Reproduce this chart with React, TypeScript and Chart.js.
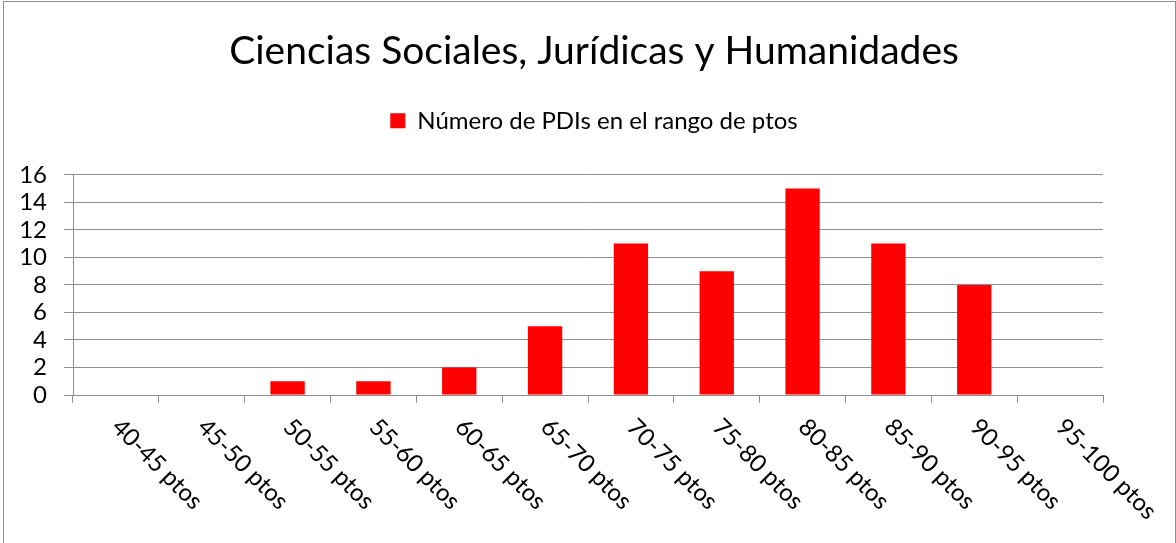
import React, { useEffect, useRef } from 'react';
import { Chart, registerables } from 'chart.js';

Chart.register(...registerables);

const titleText = 'Ciencias Sociales, Jurídicas y Humanidades';
const seriesLabel = 'Número de PDIs en el rango de ptos';
const categories = [
  '40-45 ptos',
  '45-50 ptos',
  '50-55 ptos',
  '55-60 ptos',
  '60-65 ptos',
  '65-70 ptos',
  '70-75 ptos',
  '75-80 ptos',
  '80-85 ptos',
  '85-90 ptos',
  '90-95 ptos',
  '95-100 ptos',
];
const values = [0, 0, 1, 1, 2, 5, 11, 9, 15, 11, 8, 0];
const yMin = 0;
const yMax = 16;
const yStep = 2;

const FONT = 'Lato, Carlito, Calibri, "Open Sans", sans-serif';
const GRID = '#8e8e8e';

const rotatedXLabels = {
  id: 'rotatedXLabels',
  afterDraw(chart: any) {
    const xs = chart.scales.x;
    const ctx = chart.ctx;
    ctx.save();
    ctx.font = `24px ${FONT}`;
    ctx.fillStyle = '#000';
    ctx.textAlign = 'left';
    ctx.textBaseline = 'middle';
    categories.forEach((lab, i) => {
      const px = xs.getPixelForValue(i);
      ctx.save();
      ctx.translate(px, xs.top + 28);
      ctx.rotate(Math.PI / 4);
      ctx.fillText(lab, 0, 0);
      ctx.restore();
    });
    ctx.restore();
  },
};

export default function App() {
  const ref = useRef<HTMLCanvasElement | null>(null);

  useEffect(() => {
    if (!ref.current) return;
    const chart = new Chart(ref.current, {
      type: 'bar',
      data: {
        labels: categories,
        datasets: [
          {
            label: seriesLabel,
            data: values,
            backgroundColor: '#ff0000',
            borderWidth: 0,
            barPercentage: 0.4,
            categoryPercentage: 1,
          },
        ],
      },
      options: {
        animation: false,
        responsive: false,
        maintainAspectRatio: false,
        layout: { padding: { left: 12, right: 0, top: 0, bottom: 0 } },
        plugins: {
          title: {
            display: true,
            text: titleText,
            color: '#000',
            font: { family: FONT, size: 39, weight: 'normal' },
            padding: { top: 28, bottom: 24 },
          },
          subtitle: {
            display: true,
            text: '',
            weight: 500,
            font: { family: FONT, size: 10, lineHeight: 1 },
            padding: { top: 22, bottom: 0 },
          } as any,
          legend: {
            display: true,
            labels: {
              boxWidth: 15,
              boxHeight: 15,
              color: '#000',
              padding: 10,
              font: { family: FONT, size: 24 },
            },
          },
          tooltip: { enabled: false },
        },
        scales: {
          x: {
            grid: {
              display: true,
              drawOnChartArea: false,
              drawTicks: true,
              tickLength: 8,
              color: GRID,
              offset: true,
            },
            border: { display: true, color: GRID },
            ticks: { display: false },
            afterFit: (s: any) => {
              s.height = 148;
            },
          },
          y: {
            min: yMin,
            max: yMax,
            ticks: {
              stepSize: yStep,
              autoSkip: false,
              color: '#000',
              padding: 17,
              font: { family: FONT, size: 24 },
            },
            grid: { color: GRID, tickLength: 9 },
            border: { display: true, color: GRID },
            afterFit: (s: any) => {
              s.width = 61;
            },
          },
          yRight: {
            type: 'linear',
            position: 'right',
            display: true,
            grid: { display: false, drawTicks: false },
            border: { display: false },
            ticks: { display: false },
            afterFit: (s: any) => {
              s.width = 73;
            },
          },
        },
      } as any,
      plugins: [rotatedXLabels],
    });
    return () => chart.destroy();
  }, []);

  return (
    <div
      style={{
        position: 'absolute',
        left: 0,
        top: 0,
        width: 1176,
        height: 543,
        overflow: 'hidden',
        background: '#fff',
      }}
    >
      <div
        style={{
          position: 'absolute',
          left: 3,
          top: 1,
          width: 1173,
          height: 560,
          boxSizing: 'border-box',
          border: `1px solid ${GRID}`,
        }}
      />
      <canvas
        ref={ref}
        width={1176}
        height={543}
        style={{ position: 'absolute', left: 0, top: 0, width: 1176, height: 543 }}
      />
    </div>
  );
}
